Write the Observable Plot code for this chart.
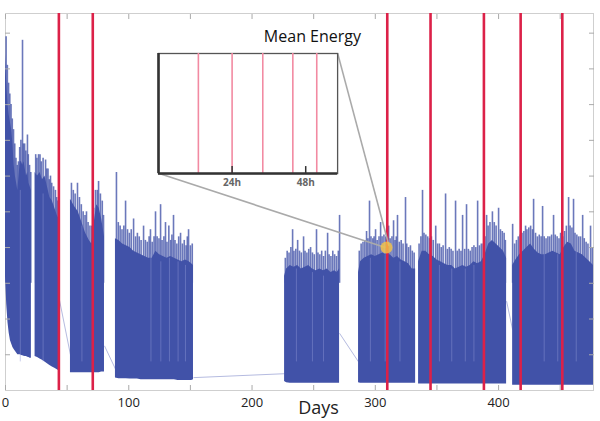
<!DOCTYPE html>
<html><head><meta charset="utf-8">
<script src="https://cdn.jsdelivr.net/npm/d3@7"></script>
<script src="https://cdn.jsdelivr.net/npm/@observablehq/plot@0.6"></script>
<style>
body{margin:0;background:#fff;font-family:"Open Sans",sans-serif;}
#wrap{position:relative;width:600px;height:421px;overflow:hidden;}
#inset{position:absolute;}
</style></head><body><div id="wrap"></div>
<script>
// ---- envelope of the dense energy trace (day, low, high, recording segment)
const envDay = [0,1,2,3,4,5,6,7,8,9,10,11,12,13,14,15,16,17,18,19,20,21,
  24,26,28,30,32,34,36,38,40,42,43.4,
  52.7,56,59,62,65,68,70,72,74,76,78,80.3,
  89.2,92,95,98,101,104,107,110,113,116,119,122,125,128,131,134,137,140,143,146,149,151,152.5,
  226.4,228,231,234,237,240,243,246,249,252,255,258,261,264,267,269,271,
  286.4,288,291,294,297,300,303,306,309,312,315,318,321,324,327,330,332.7,
  335.1,338,341,344,347,350,353,356,359,362,365,368,371,374,377,380,383,386,389,392,395,398,401,404,406.5,
  411.4,414,417,420,423,426,429,432,435,438,441,444,447,450,453,456,459,462,465,468,471,474,477];
const envLow = [3.2,2.4,1.9,1.6,1.4,1.3,1.2,1.15,1.1,1.05,1.0,1.0,1.0,0.98,0.97,0.96,0.95,0.95,0.93,0.92,0.9,0.9,
  0.95,0.92,0.88,0.85,0.8,0.75,0.7,0.66,0.62,0.58,0.55,
  0.5,0.5,0.5,0.5,0.5,0.5,0.5,0.5,0.5,0.5,0.52,0.52,
  0.35,0.33,0.33,0.33,0.32,0.32,0.32,0.3,0.3,0.3,0.3,0.3,0.3,0.3,0.3,0.3,0.3,0.28,0.28,0.28,0.28,0.28,0.3,
  0.25,0.22,0.2,0.2,0.2,0.2,0.2,0.2,0.2,0.2,0.2,0.2,0.2,0.2,0.2,0.2,0.2,
  0.22,0.2,0.2,0.2,0.2,0.2,0.2,0.2,0.2,0.2,0.2,0.2,0.2,0.2,0.2,0.2,0.2,
  0.18,0.18,0.18,0.18,0.18,0.18,0.18,0.18,0.18,0.18,0.18,0.18,0.18,0.18,0.18,0.18,0.18,0.18,0.18,0.18,0.18,0.18,0.18,0.18,0.18,
  0.15,0.15,0.15,0.15,0.15,0.15,0.15,0.15,0.15,0.15,0.15,0.15,0.15,0.15,0.15,0.15,0.15,0.15,0.15,0.15,0.15,0.15,0.15];
const envHigh = [9.4,8.6,8.0,7.7,7.5,7.3,6.9,6.3,6.0,5.8,5.6,6.0,6.4,6.4,6.3,6.4,6.2,6.0,6.1,5.8,5.7,5.6,
  6.1,6.0,6.1,5.9,6.0,5.7,5.4,5.3,5.1,4.9,4.8,
  5.35,5.15,5.0,4.7,4.4,4.2,4.1,4.7,5.2,5.1,4.8,4.3,
  4.25,4.2,4.1,4.05,4.0,3.9,3.85,3.8,3.75,3.7,3.7,3.9,3.8,3.75,3.7,3.75,3.7,3.65,3.6,3.65,3.6,3.55,3.5,
  3.2,3.4,3.5,3.45,3.5,3.4,3.45,3.5,3.4,3.35,3.4,3.35,3.4,3.3,3.35,3.3,3.4,
  3.3,3.6,3.7,3.75,3.8,3.75,3.8,3.85,3.8,3.8,3.7,3.75,3.65,3.6,3.55,3.4,3.4,
  3.6,3.9,3.9,3.8,3.75,3.65,3.6,3.55,3.5,3.5,3.4,3.45,3.5,3.45,3.5,3.6,3.55,3.6,3.8,4.1,4.2,4.1,4.0,3.9,3.7,
  3.5,3.65,3.8,3.9,4.0,4.1,3.95,3.85,3.8,3.8,3.85,3.9,3.85,3.8,4.0,4.15,4.1,3.9,3.85,3.8,3.7,3.6,3.5];
const envSeg = [1,1,1,1,1,1,1,1,1,1,1,1,1,1,1,1,1,1,1,1,1,1,
  2,2,2,2,2,2,2,2,2,2,2,
  3,3,3,3,3,3,3,3,3,3,3,3,
  4,4,4,4,4,4,4,4,4,4,4,4,4,4,4,4,4,4,4,4,4,4,4,
  5,5,5,5,5,5,5,5,5,5,5,5,5,5,5,5,5,
  6,6,6,6,6,6,6,6,6,6,6,6,6,6,6,6,6,
  7,7,7,7,7,7,7,7,7,7,7,7,7,7,7,7,7,7,7,7,7,7,7,7,7,
  8,8,8,8,8,8,8,8,8,8,8,8,8,8,8,8,8,8,8,8,8,8,8];

// ---- individual peaks rising above the dense core
const spikeDay = [0.5,1.5,2.5,3.5,4.5,5.5,6.5,7.5,8.5,9.5,10.5,11.5,12.5,13.8,14.5,15.5,16.5,17.8,18.5,19.5,20.5,
  24.5,25.5,26.8,28,29,30.5,32.5,33.5,34.5,35.5,36.5,37.5,39,40.5,41.5,42.5,
  53.5,55,56.5,58.4,60,61.5,63,64.5,65.7,67,68.5,70,71.5,73,74.5,75.5,77,78.5,79.5,
  90,91.5,93,94.5,96,97.4,99,100.5,102,103.9,105.5,107,108.5,110,112,113.5,115,116.5,117.6,119,120.5,121.7,123,124.5,125.8,127,128.5,129.8,131,132.5,134,135,136.3,137.5,139,140.5,142,143.5,145,146.5,147.5,148.5,150,151.5,
  227,228.5,230,231.5,232.9,234,235.5,237,238.5,240,241.8,243,244.5,246,247.5,249,250.5,252.3,253.5,255,256.5,258,259.5,261.3,262.5,264,265.5,267,268.5,270,271,
  287,288.5,290,291.5,292.9,294,295.3,296.5,298,299,300.2,301.5,303,304.3,305.5,307,308.5,310.8,312,313.5,314.8,316,317,318,319.5,321,322.5,324.5,325.5,327,328.5,330,331.5,
  335.5,337,338.3,339.5,341,342.5,344,345.5,347,349,350.5,352,353.5,355,357,358.5,360,361.5,363,365.1,366.5,368,369.5,370.8,372.5,374,375.5,377,378.5,380,381.5,383,384.5,386,387.5,389,390.3,391.5,393,395,396.5,398,400,401.5,403,404.5,405.5,
  411.4,413,414.5,416,417.5,419,420.5,421.9,423,424.5,426,427.5,428.4,430,431.5,433,434.5,435.7,437,438.5,440,441.5,443,444.6,446,447.5,449,450.3,452,453.5,455,456.8,458,459.5,460.8,462,463.5,465,466.5,468.2,469.5,471,472.5,474.6,476];
const spikeTop = [9.9,9.1,8.6,8.3,8.0,7.6,7.3,6.9,6.5,6.3,6.4,6.8,7.0,9.8,6.9,6.9,6.7,7.15,6.6,6.3,6.1,
  6.6,6.5,6.6,6.6,6.4,6.5,6.45,6.2,6.2,5.9,6.0,5.8,5.7,5.6,5.4,5.3,
  5.8,5.6,5.5,5.8,5.4,5.2,5.0,4.9,5.0,4.7,4.6,4.6,5.1,5.6,5.6,5.85,5.5,5.3,4.9,
  6.1,4.7,4.6,4.5,4.6,5.3,4.5,4.4,4.5,4.8,4.3,4.4,4.3,4.2,4.6,4.2,4.15,4.3,4.5,4.15,4.3,5.0,4.3,4.25,5.2,4.2,4.3,4.7,4.15,4.6,4.2,4.35,4.9,4.2,4.1,4.3,4.4,4.1,4.2,4.05,4.3,4.5,4.05,4.1,
  3.7,3.9,3.85,4.0,4.5,3.9,3.95,4.2,3.9,3.85,4.3,3.9,3.85,3.95,4.0,3.85,3.8,4.5,3.85,3.8,3.9,3.75,3.9,4.4,3.8,3.75,3.9,3.8,3.75,3.9,4.9,
  3.9,4.1,4.15,4.2,4.45,4.25,5.3,4.3,4.25,4.3,4.5,4.2,4.3,4.7,4.3,4.35,4.3,4.6,4.25,4.3,4.75,4.2,4.3,4.9,4.15,4.2,4.1,5.4,4.1,4.0,4.05,3.9,3.85,
  4.1,4.3,5.6,4.4,4.35,4.3,4.25,4.3,4.2,4.6,4.1,4.1,4.0,4.05,5.5,3.95,4.0,3.95,3.9,5.3,3.9,3.95,3.9,4.9,3.95,5.2,3.95,3.9,4.0,4.05,4.0,5.3,4.05,4.1,4.1,4.3,4.9,4.6,4.7,5.0,4.7,4.6,5.1,4.5,4.45,4.4,4.2,
  4.65,4.1,4.2,4.3,4.35,4.4,4.45,4.6,4.5,4.55,4.6,4.5,5.35,4.4,4.3,4.35,4.3,5.15,4.3,4.25,4.3,4.3,4.35,4.9,4.35,4.3,4.25,4.4,4.3,4.45,4.6,5.4,4.6,4.55,5.35,4.4,4.35,4.3,4.3,4.9,4.25,4.15,4.1,4.6,4.0];

// ---- lighter streaks inside the dense core
const streakDay = [12, 30.5, 62, 118, 126, 133, 140, 146, 236, 249, 258, 296, 308, 320, 352, 362, 373, 380, 437, 448, 463];
const streakTop = [5.6, 5.5, 4.6, 3.8, 3.6, 3.7, 3.6, 3.5, 3.4, 3.3, 3.2, 3.7, 3.8, 3.6, 3.5, 3.4, 3.4, 3.5, 3.8, 3.8, 3.9];

// ---- thin connecting trace across recording gaps
const gapFromDay = [43.4, 80.3, 152.5, 271, 406.5];
const gapFromVal = [2.6, 1.25, 0.36, 1.6, 2.5];
const gapToDay   = [52.7, 89.2, 226.4, 286.4, 411.4];
const gapToVal   = [1.0, 0.6, 0.47, 0.8, 1.7];

// ---- event markers (days) and axis ticks
const eventDays = [43.3, 70.8, 309.7, 344.8, 388.1, 417.9, 451.7];
const xTicks = [0,50,100,150,200,250,300,350,400,450];
const xLabelTicks = [0,100,200,300,400];
const yTicks = [1,2,3,4,5,6,7,8,9,10];

// ---- highlighted point and inset (zoom of ~58 h)
const highlightDay = 309.1, highlightVal = 4.0;
const insetDays = [124.1, 269.4];
const insetVals = [6.08, 9.44];
const insetEventHours = [13, 24, 34, 43.8, 51.6];
const insetTicks = [24, 48];
const insetTickLabels = ["24h", "48h"];

const chartTitle = "Mean Energy";
const xTitle = "Days";

(function () {
const env = envDay.map((d, i) => ({day: d, lo: envLow[i], hi: envHigh[i], seg: envSeg[i]}));
const spikes = spikeDay.map((d, i) => ({day: d, top: spikeTop[i]}));
const streaks = streakDay.map((d, i) => ({day: d, top: streakTop[i]}));
const gaps = gapFromDay.map((d, i) => ({x1: d, y1: gapFromVal[i], x2: gapToDay[i], y2: gapToVal[i]}));
const connectors = [
  {x1: insetDays[0], y1: insetVals[0], x2: highlightDay - 1, y2: highlightVal},
  {x1: insetDays[1], y1: insetVals[1], x2: highlightDay + 2, y2: highlightVal + 0.05}
];

const blue = "#4152a8";
const tickStroke = "#aaaaaa";

const chart = Plot.plot({
  width: 600, height: 421,
  marginLeft: 5, marginRight: 7, marginTop: 13, marginBottom: 31,
  x: {domain: [0, 477], label: null},
  y: {domain: [0, 10.55], label: null},
  style: {fontFamily: "'Open Sans', sans-serif", background: "white", color: "#222"},
  marks: [
    Plot.frame({stroke: "#cfcfcf"}),
    Plot.link(gaps, {x1: "x1", y1: "y1", x2: "x2", y2: "y2", stroke: "#b5bbe0", strokeWidth: 1}),
    Plot.ruleX(spikes, {x: "day", y1: 3, y2: "top", stroke: "#4656aa", strokeWidth: 1.6, strokeOpacity: 0.8}),
    Plot.areaY(env, {x: "day", y1: "lo", y2: "hi", z: "seg", fill: blue, curve: "linear"}),
    Plot.ruleX(streaks, {x: "day", y1: 0.8, y2: "top", stroke: "#8d97d4", strokeWidth: 1, strokeOpacity: 0.45}),
    Plot.ruleX(eventDays, {stroke: "#dc2148", strokeWidth: 2.6}),
    Plot.axisX({anchor: "bottom", ticks: xLabelTicks, tickSize: 0, tickPadding: 7, fontSize: 13, fill: "#222", label: null}),
    Plot.axisX({anchor: "bottom", ticks: xTicks, tickSize: -5, tickFormat: () => "", stroke: tickStroke, label: null}),
    Plot.axisX({anchor: "top", ticks: xTicks, tickSize: -5, tickFormat: () => "", stroke: tickStroke, label: null}),
    Plot.axisY({anchor: "left", ticks: yTicks, tickSize: -5, tickFormat: () => "", stroke: tickStroke, label: null}),
    Plot.axisY({anchor: "right", ticks: yTicks, tickSize: -5, tickFormat: () => "", stroke: tickStroke, label: null}),
    Plot.link(connectors, {x1: "x1", y1: "y1", x2: "x2", y2: "y2", stroke: "#aaaaaa", strokeWidth: 1.6}),
    Plot.dot([{d: highlightDay, v: highlightVal}], {x: "d", y: "v", r: 6, fill: "#f6c445", fillOpacity: 0.8, stroke: null}),
    Plot.text([{d: 249}], {x: "d", frameAnchor: "top", dy: 17, text: () => chartTitle, fontSize: 16, fill: "#111"}),
    Plot.text([{d: 254}], {x: "d", frameAnchor: "bottom", dy: 23, text: () => xTitle, fontSize: 18, fill: "#222"})
  ]
});

const wrap = document.getElementById("wrap");
wrap.appendChild(chart);

const X = chart.scale("x"), Y = chart.scale("y");
const pxLeft = X.apply(insetDays[0]), pxRight = X.apply(insetDays[1]);
const pxTop = Y.apply(insetVals[1]), pxBottom = Y.apply(insetVals[0]);

const inset = Plot.plot({
  width: pxRight - pxLeft + 2, height: pxBottom - pxTop + 20,
  marginLeft: 1, marginRight: 1, marginTop: 1, marginBottom: 19,
  x: {domain: [0, 58.4], label: null},
  y: {domain: [0, 1], label: null, axis: null},
  style: {fontFamily: "'Open Sans', sans-serif", background: "transparent", overflow: "visible"},
  marks: [
    Plot.frame({fill: "white", stroke: "#555", strokeWidth: 1.3}),
    Plot.ruleX(insetEventHours, {stroke: "#f28aa2", strokeWidth: 1.6}),
    Plot.ruleX([0], {stroke: "#333", strokeWidth: 2.6}),
    Plot.ruleY([0], {stroke: "#333", strokeWidth: 2.6}),
    Plot.axisX({anchor: "bottom", ticks: insetTicks, tickSize: -7, tickFormat: () => "", stroke: "#333", strokeWidth: 1.5, label: null}),
    Plot.axisX({anchor: "bottom", ticks: insetTicks, tickSize: 0, tickPadding: 5,
      tickFormat: (d, i) => insetTickLabels[i], fontSize: 10, fontWeight: "bold", fill: "#666", label: null})
  ]
});
const holder = document.createElement("div");
holder.id = "inset";
holder.style.left = (pxLeft - 1) + "px";
holder.style.top = (pxTop - 1) + "px";
holder.appendChild(inset);
wrap.appendChild(holder);
})();
</script>
</body></html>
